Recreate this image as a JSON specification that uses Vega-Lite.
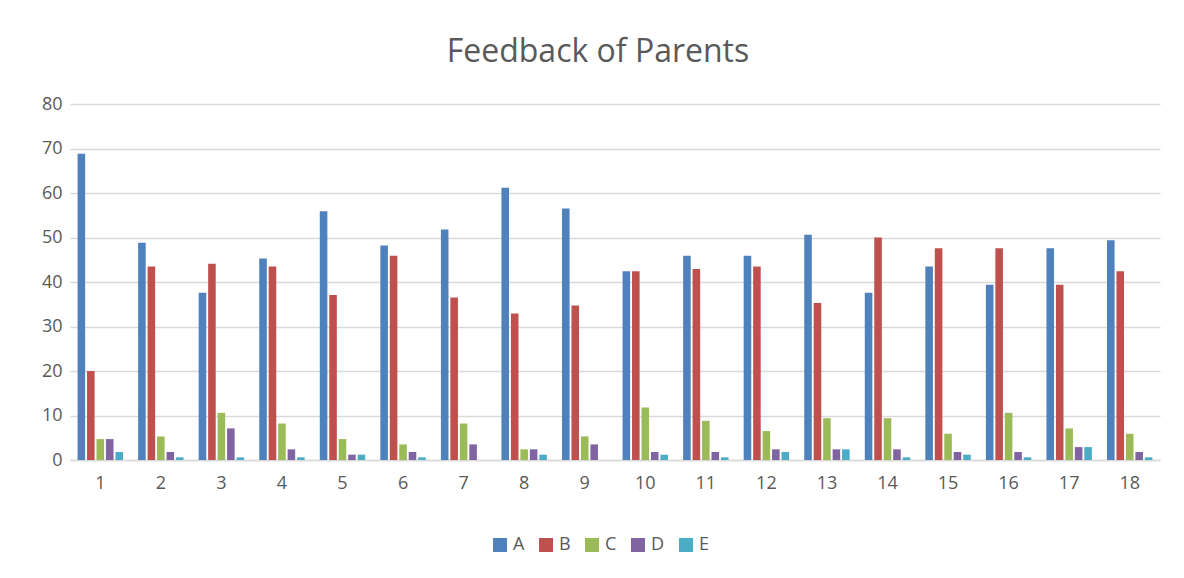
{
  "$schema": "https://vega.github.io/schema/vega-lite/v6.json",
  "width": 1090,
  "height": 356,
  "autosize": {"type": "none"},
  "padding": {"left": 70, "top": 104, "right": 24, "bottom": 118},
  "background": "white",
  "title": {
    "text": "Feedback of Parents",
    "font": "Open Sans",
    "fontSize": 32,
    "fontWeight": "normal",
    "color": "#595959",
    "anchor": "middle",
    "dx": -17,
    "offset": 26
  },
  "data": {
    "values": [
      {"g": 1, "s": "A", "v": 68.8}, {"g": 1, "s": "B", "v": 20.0}, {"g": 1, "s": "C", "v": 4.7}, {"g": 1, "s": "D", "v": 4.7}, {"g": 1, "s": "E", "v": 1.8},
      {"g": 2, "s": "A", "v": 48.8}, {"g": 2, "s": "B", "v": 43.5}, {"g": 2, "s": "C", "v": 5.3}, {"g": 2, "s": "D", "v": 1.8}, {"g": 2, "s": "E", "v": 0.6},
      {"g": 3, "s": "A", "v": 37.6}, {"g": 3, "s": "B", "v": 44.1}, {"g": 3, "s": "C", "v": 10.6}, {"g": 3, "s": "D", "v": 7.1}, {"g": 3, "s": "E", "v": 0.6},
      {"g": 4, "s": "A", "v": 45.3}, {"g": 4, "s": "B", "v": 43.5}, {"g": 4, "s": "C", "v": 8.2}, {"g": 4, "s": "D", "v": 2.4}, {"g": 4, "s": "E", "v": 0.6},
      {"g": 5, "s": "A", "v": 55.9}, {"g": 5, "s": "B", "v": 37.1}, {"g": 5, "s": "C", "v": 4.7}, {"g": 5, "s": "D", "v": 1.2}, {"g": 5, "s": "E", "v": 1.2},
      {"g": 6, "s": "A", "v": 48.2}, {"g": 6, "s": "B", "v": 45.9}, {"g": 6, "s": "C", "v": 3.5}, {"g": 6, "s": "D", "v": 1.8}, {"g": 6, "s": "E", "v": 0.6},
      {"g": 7, "s": "A", "v": 51.8}, {"g": 7, "s": "B", "v": 36.5}, {"g": 7, "s": "C", "v": 8.2}, {"g": 7, "s": "D", "v": 3.5}, {"g": 7, "s": "E", "v": 0},
      {"g": 8, "s": "A", "v": 61.2}, {"g": 8, "s": "B", "v": 32.9}, {"g": 8, "s": "C", "v": 2.4}, {"g": 8, "s": "D", "v": 2.4}, {"g": 8, "s": "E", "v": 1.2},
      {"g": 9, "s": "A", "v": 56.5}, {"g": 9, "s": "B", "v": 34.7}, {"g": 9, "s": "C", "v": 5.3}, {"g": 9, "s": "D", "v": 3.5}, {"g": 9, "s": "E", "v": 0},
      {"g": 10, "s": "A", "v": 42.4}, {"g": 10, "s": "B", "v": 42.4}, {"g": 10, "s": "C", "v": 11.8}, {"g": 10, "s": "D", "v": 1.8}, {"g": 10, "s": "E", "v": 1.2},
      {"g": 11, "s": "A", "v": 45.9}, {"g": 11, "s": "B", "v": 42.9}, {"g": 11, "s": "C", "v": 8.8}, {"g": 11, "s": "D", "v": 1.8}, {"g": 11, "s": "E", "v": 0.6},
      {"g": 12, "s": "A", "v": 45.9}, {"g": 12, "s": "B", "v": 43.5}, {"g": 12, "s": "C", "v": 6.5}, {"g": 12, "s": "D", "v": 2.4}, {"g": 12, "s": "E", "v": 1.8},
      {"g": 13, "s": "A", "v": 50.6}, {"g": 13, "s": "B", "v": 35.3}, {"g": 13, "s": "C", "v": 9.4}, {"g": 13, "s": "D", "v": 2.4}, {"g": 13, "s": "E", "v": 2.4},
      {"g": 14, "s": "A", "v": 37.6}, {"g": 14, "s": "B", "v": 50.0}, {"g": 14, "s": "C", "v": 9.4}, {"g": 14, "s": "D", "v": 2.4}, {"g": 14, "s": "E", "v": 0.6},
      {"g": 15, "s": "A", "v": 43.5}, {"g": 15, "s": "B", "v": 47.6}, {"g": 15, "s": "C", "v": 5.9}, {"g": 15, "s": "D", "v": 1.8}, {"g": 15, "s": "E", "v": 1.2},
      {"g": 16, "s": "A", "v": 39.4}, {"g": 16, "s": "B", "v": 47.6}, {"g": 16, "s": "C", "v": 10.6}, {"g": 16, "s": "D", "v": 1.8}, {"g": 16, "s": "E", "v": 0.6},
      {"g": 17, "s": "A", "v": 47.6}, {"g": 17, "s": "B", "v": 39.4}, {"g": 17, "s": "C", "v": 7.1}, {"g": 17, "s": "D", "v": 2.9}, {"g": 17, "s": "E", "v": 2.9},
      {"g": 18, "s": "A", "v": 49.4}, {"g": 18, "s": "B", "v": 42.4}, {"g": 18, "s": "C", "v": 5.9}, {"g": 18, "s": "D", "v": 1.8}, {"g": 18, "s": "E", "v": 0.6}
    ]
  },
  "mark": {"type": "bar"},
  "encoding": {
    "x": {
      "field": "g",
      "type": "ordinal",
      "scale": {"paddingInner": 0.25, "paddingOuter": 0.125},
      "axis": {
        "title": null,
        "labelAngle": 0,
        "labelFont": "Open Sans",
        "labelFontSize": 18,
        "labelColor": "#595959",
        "labelPadding": 14,
        "domain": true,
        "domainColor": "#d9d9d9",
        "domainWidth": 1.5,
        "ticks": false,
        "grid": false
      }
    },
    "xOffset": {
      "field": "s",
      "type": "nominal",
      "scale": {"paddingInner": 0.2, "paddingOuter": 0}
    },
    "y": {
      "field": "v",
      "type": "quantitative",
      "scale": {"domain": [0, 80], "nice": false},
      "axis": {
        "title": null,
        "values": [0, 10, 20, 30, 40, 50, 60, 70, 80],
        "labelFont": "Open Sans",
        "labelFontSize": 18,
        "labelColor": "#595959",
        "labelPadding": 8,
        "domain": false,
        "ticks": false,
        "grid": true,
        "gridColor": "#d9d9d9",
        "gridWidth": 1.5
      }
    },
    "color": {
      "field": "s",
      "type": "nominal",
      "scale": {
        "domain": ["A", "B", "C", "D", "E"],
        "range": ["#4f81bd", "#c0504d", "#9bbb59", "#8064a2", "#4bacc6"]
      },
      "legend": {
        "title": null,
        "orient": "none",
        "legendX": 421,
        "legendY": 432,
        "direction": "horizontal",
        "symbolType": "square",
        "symbolSize": 196,
        "symbolStrokeWidth": 0,
        "labelFont": "Open Sans",
        "labelFontSize": 18,
        "labelColor": "#595959",
        "columnPadding": 12
      }
    }
  },
  "config": {
    "view": {"stroke": null}
  }
}
